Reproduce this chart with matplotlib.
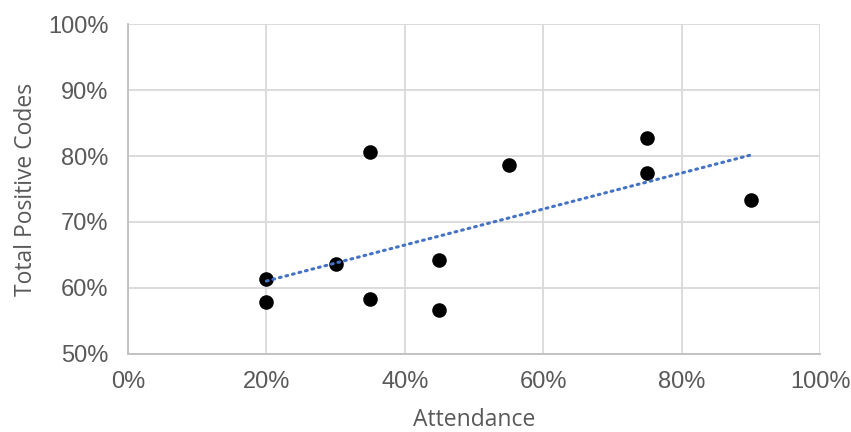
import numpy as np
import matplotlib.pyplot as plt
from matplotlib.ticker import PercentFormatter

attendance = [0.20, 0.20, 0.30, 0.35, 0.35, 0.45, 0.45, 0.55, 0.75, 0.75, 0.90]
positive_codes = [0.614, 0.579, 0.636, 0.806, 0.584, 0.642, 0.566, 0.786, 0.827, 0.775, 0.733]

x_ticks = [0, 0.2, 0.4, 0.6, 0.8, 1.0]
y_ticks = [0.5, 0.6, 0.7, 0.8, 0.9, 1.0]

plt.rcParams['font.family'] = ['Open Sans', 'DejaVu Sans']

fig = plt.figure(figsize=(8.51, 4.32), dpi=100)
ax = fig.add_axes([0.1504, 0.1806, 0.8132, 0.7638])

ax.scatter(attendance, positive_codes, s=110, color='black', zorder=3, linewidths=0)

# linear trendline over the data range
slope, intercept = np.polyfit(attendance, positive_codes, 1)
tx = np.array([min(attendance), max(attendance)])
ax.plot(tx, slope * tx + intercept, color='#4472C4', linewidth=2.2,
        linestyle=(0, (0.6, 1.6)), dash_capstyle='round', zorder=4)

ax.set_xlim(0, 1.0)
ax.set_ylim(0.5, 1.0)
ax.set_xticks(x_ticks)
ax.set_yticks(y_ticks)
ax.xaxis.set_major_formatter(PercentFormatter(1.0, decimals=0))
ax.yaxis.set_major_formatter(PercentFormatter(1.0, decimals=0))

ax.grid(True, color='#D9D9D9', linewidth=1.3)
ax.set_axisbelow(True)
for side in ['top', 'right']:
    ax.spines[side].set_visible(False)
for side in ['left', 'bottom']:
    ax.spines[side].set_color('#BFBFBF')
    ax.spines[side].set_linewidth(1.3)

ax.tick_params(length=0, labelcolor='#595959')
for lab in ax.get_xticklabels() + ax.get_yticklabels():
    lab.set_fontfamily('Liberation Sans')
    lab.set_fontsize(17)
ax.tick_params(axis='y', pad=14)
ax.tick_params(axis='x', pad=12)
ax.set_xlabel('Attendance', fontsize=16.5, color='#595959', labelpad=11)
ax.set_ylabel('Total Positive Codes', fontsize=16.5, color='#595959', labelpad=7)

fig.savefig('out.png', dpi=100)
